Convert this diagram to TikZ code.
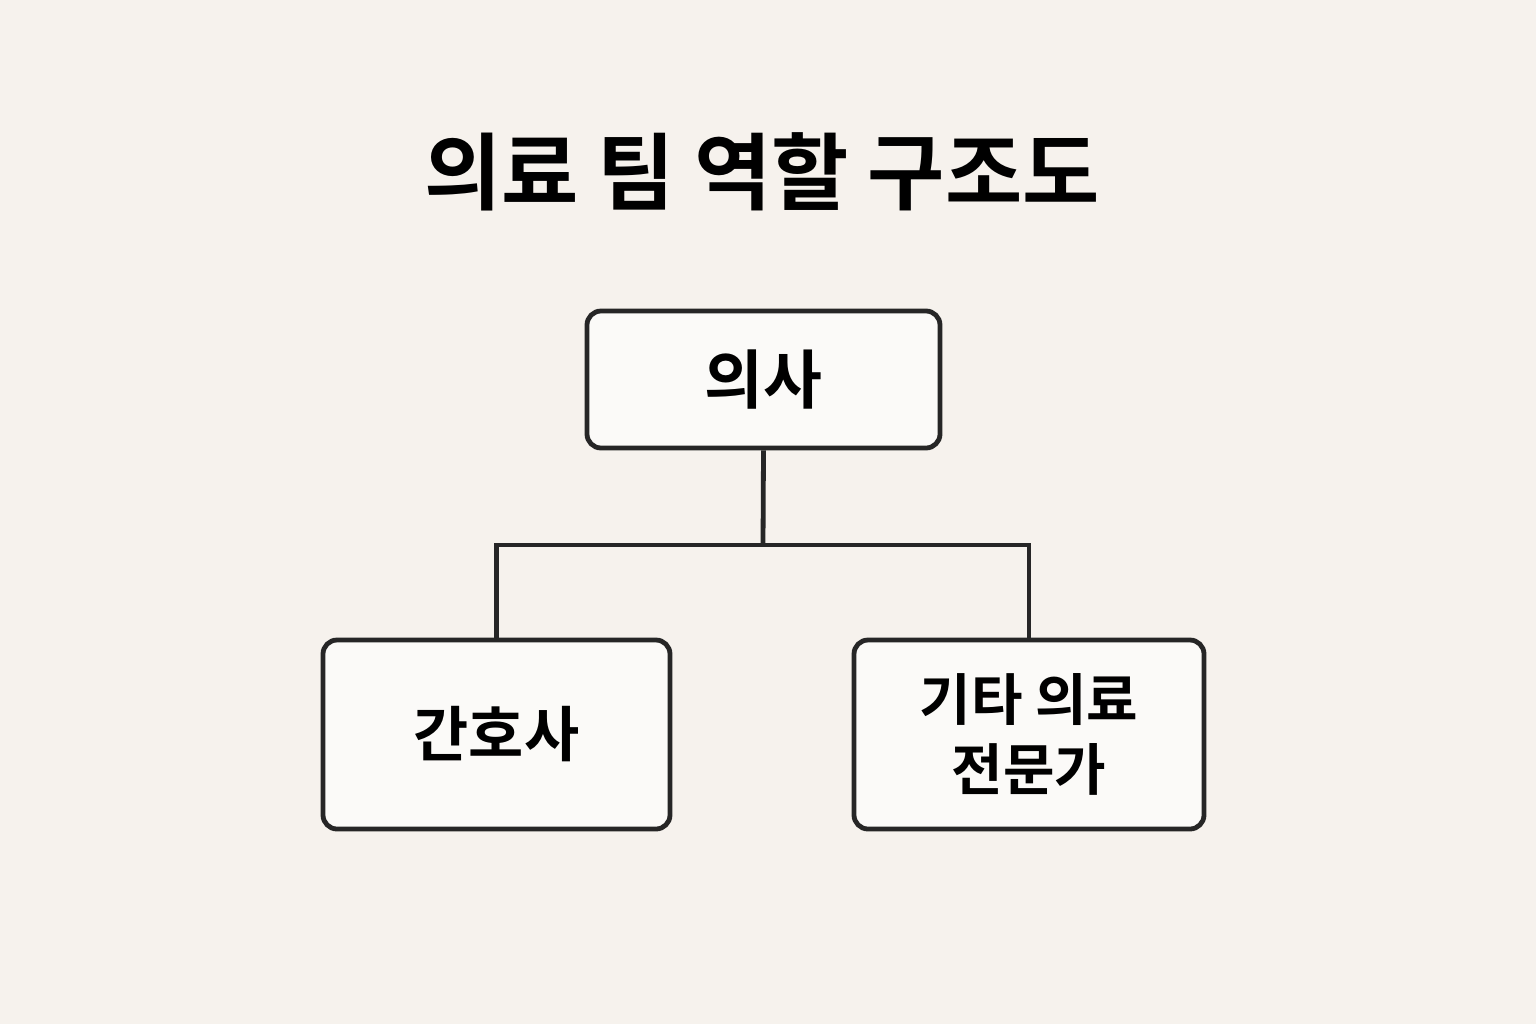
\documentclass[tikz,border=0pt]{standalone}
\usepackage{fontspec}
\newfontfamily\cjk{Noto Sans CJK KR}[BoldFont={Noto Sans CJK KR Bold}]
\begin{document}
\begin{tikzpicture}[x=0.5pt,y=-0.5pt,
  box/.style={draw=black!85,line width=2.4pt,rounded corners=7pt,fill=white!60!bgc,inner sep=0pt,align=center},
  conn/.style={draw=black!85,line width=2.4pt}]
\definecolor{bgc}{HTML}{F6F2ED}
\fill[bgc] (0,0) rectangle (1536,1024);
\useasboundingbox (0,0) rectangle (1536,1024);
\node[font=\cjk\bfseries\fontsize{42}{50}\selectfont] (title) at (762,172) {의료 팀 역할 구조도};
\node[box,minimum width=176.5pt,minimum height=68.5pt,font=\cjk\bfseries\fontsize{32}{38}\selectfont] (doc) at (763.5,379.5) {의사};
\node[box,minimum width=173.5pt,minimum height=94.5pt,font=\cjk\bfseries\fontsize{30}{36}\selectfont] (nurse) at (496.5,734.5) {간호사};
\node[box,minimum width=175pt,minimum height=94.5pt,font=\cjk\bfseries\fontsize{28}{35}\selectfont] (other) at (1029,734.5) {기타 의료\\전문가};
\coordinate (j) at (763,545);
\draw[conn] (doc.south) -- (j);
\draw[conn] (nurse.north) |- (j) -| (other.north);
\end{tikzpicture}
\end{document}
